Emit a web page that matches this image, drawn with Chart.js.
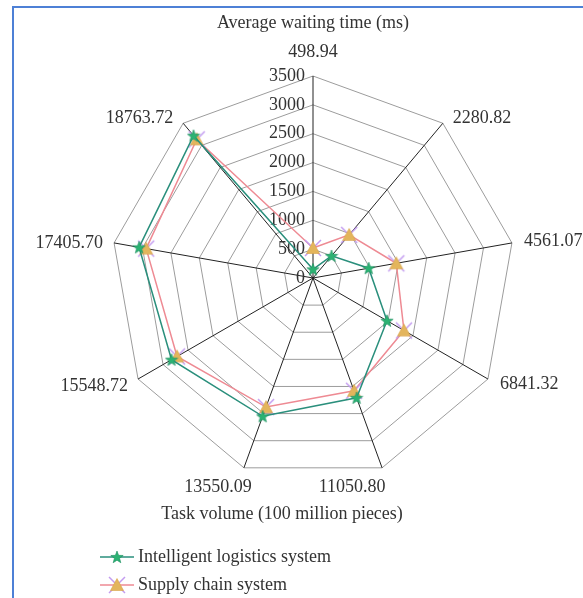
<!DOCTYPE html>
<html><head><meta charset="utf-8">
<script src="https://cdn.jsdelivr.net/npm/chart.js@4.4.0/dist/chart.umd.min.js"></script>
<style>
html,body{margin:0;padding:0;background:#fff;overflow:hidden;width:583px;height:598px;}
#frame{position:absolute;left:12px;top:6px;width:900px;height:900px;border-left:2px solid #4d80d6;border-top:2px solid #4d80d6;}
canvas{position:absolute;left:0;top:0;}
</style></head><body>
<div id="frame"></div>
<canvas id="c" width="583" height="598"></canvas>
<script>
// ---- data ----
const categories = ['498.94','2280.82','4561.07','6841.32','11050.80','13550.09','15548.72','17405.70','18763.72'];
const intelligentLogistics = [150, 500, 980, 1480, 2210, 2550, 2830, 3060, 3220];
const supplyChain = [520, 975, 1465, 1820, 2080, 2380, 2720, 2935, 3135];
const tickValues = [0, 500, 1000, 1500, 2000, 2500, 3000, 3500];
const tickLabels = ['0','500','1000','1500','2000','2500','3000','3500'];
const seriesNames = ['Intelligent logistics system', 'Supply chain system'];
const titleTop = 'Average waiting time (ms)';
const titleBottom = 'Task volume (100 million pieces)';

// ---- style ----
const FAMILY = '"Liberation Serif", "Times New Roman", serif';
const FONT = '18px ' + FAMILY;
const TEXT = '#333333';
const LABEL_OFFSETS = [[0,-24,'center'],[10,-5,'left'],[12,-2,'left'],[12,5,'left'],[-30,19,'center'],[-26,19,'center'],[-10,7,'right'],[-11,0,'right'],[-10,-5,'right']];
const BOTTOM_TITLE_POS = {x: 282, y: 514};
const LEGEND_POS = {x: 100, y0: 557, dy: 28, lineLen: 34, gap: 4};

function makeStar() {
  const c = document.createElement('canvas'); c.width = 14; c.height = 14;
  const g = c.getContext('2d');
  const cx = 7, cy = 7.5, R = 6.5, r = 2.7;
  g.beginPath();
  for (let k = 0; k < 10; k++) {
    const a = -Math.PI / 2 + k * Math.PI / 5;
    const rr = k % 2 ? r : R;
    const x = cx + rr * Math.cos(a), y = cy + rr * Math.sin(a);
    k ? g.lineTo(x, y) : g.moveTo(x, y);
  }
  g.closePath();
  g.fillStyle = '#2bb272'; g.fill();
  g.strokeStyle = '#1e8f62'; g.lineWidth = 0.6; g.stroke();
  return c;
}
function makeTriX() {
  const c = document.createElement('canvas'); c.width = 20; c.height = 20;
  const g = c.getContext('2d');
  g.strokeStyle = '#c39cf0'; g.lineWidth = 1.5;
  g.beginPath(); g.moveTo(2, 2); g.lineTo(18, 18); g.moveTo(18, 2); g.lineTo(2, 18); g.stroke();
  g.beginPath(); g.moveTo(10, 3.5); g.lineTo(16.5, 15.5); g.lineTo(3.5, 15.5); g.closePath();
  g.fillStyle = '#e3b55c'; g.fill();
  g.strokeStyle = '#d9a548'; g.lineWidth = 0.6; g.stroke();
  return c;
}
const starImg = makeStar();
const triXImg = makeTriX();

const textPlugin = {
  id: 'excelText',
  beforeDatasetsDraw(chart) {
    const s = chart.scales.r, ctx = chart.ctx;
    ctx.save();
    ctx.font = FONT; ctx.fillStyle = TEXT; ctx.textAlign = 'right'; ctx.textBaseline = 'middle';
    s.ticks.forEach(t => {
      const d = s.getDistanceFromCenterForValue(t.value);
      ctx.fillText(t.label, s.xCenter - 8, s.yCenter - d);
    });
    ctx.restore();
  },
  afterDraw(chart) {
    const s = chart.scales.r, ctx = chart.ctx;
    ctx.save();
    ctx.font = FONT; ctx.fillStyle = TEXT; ctx.textBaseline = 'middle';
    chart.data.labels.forEach((lab, i) => {
      const p = s.getPointPosition(i, s.drawingArea);
      const o = LABEL_OFFSETS[i];
      ctx.textAlign = o[2];
      ctx.fillText(lab, p.x + o[0], p.y + o[1]);
    });
    ctx.textAlign = 'center';
    ctx.fillText(titleBottom, BOTTOM_TITLE_POS.x, BOTTOM_TITLE_POS.y);
    chart.data.datasets.forEach((ds, i) => {
      const y = LEGEND_POS.y0 + i * LEGEND_POS.dy;
      const x = LEGEND_POS.x;
      ctx.strokeStyle = ds.borderColor; ctx.lineWidth = 1.5;
      ctx.beginPath(); ctx.moveTo(x, y); ctx.lineTo(x + LEGEND_POS.lineLen, y); ctx.stroke();
      const img = ds.pointStyle;
      ctx.drawImage(img, x + LEGEND_POS.lineLen / 2 - img.width / 2, y - img.height / 2);
      ctx.textAlign = 'left';
      ctx.fillText(ds.label, x + LEGEND_POS.lineLen + LEGEND_POS.gap, y);
    });
    ctx.restore();
  }
};

new Chart(document.getElementById('c'), {
  type: 'radar',
  data: {
    labels: categories,
    datasets: [
      { label: seriesNames[0], data: intelligentLogistics, borderColor: '#2a8f7c', backgroundColor: 'transparent',
        borderWidth: 1.5, fill: false, pointStyle: starImg, pointRadius: 6 },
      { label: seriesNames[1], data: supplyChain, borderColor: '#ee8a93', backgroundColor: 'transparent',
        borderWidth: 1.5, fill: false, pointStyle: triXImg, pointRadius: 7 }
    ]
  },
  options: {
    responsive: false,
    animation: false,
    layout: { padding: { left: 111, right: 68, top: 0, bottom: 118 } },
    plugins: {
      legend: { display: false },
      tooltip: { enabled: false },
      title: { display: true, text: titleTop, color: TEXT,
        font: { family: FAMILY, size: 18, weight: 'normal', lineHeight: 1.2 },
        padding: { top: 12, bottom: 42.4 } }
    },
    scales: {
      r: {
        min: tickValues[0], max: tickValues[tickValues.length - 1],
        ticks: { stepSize: 500, display: false, callback: (v) => tickLabels[tickValues.indexOf(v)] },
        pointLabels: { display: false },
        grid: { color: '#9c9c9c', lineWidth: 1 },
        angleLines: { color: '#222222', lineWidth: 1 }
      }
    }
  },
  plugins: [textPlugin]
});
</script>
</body></html>
